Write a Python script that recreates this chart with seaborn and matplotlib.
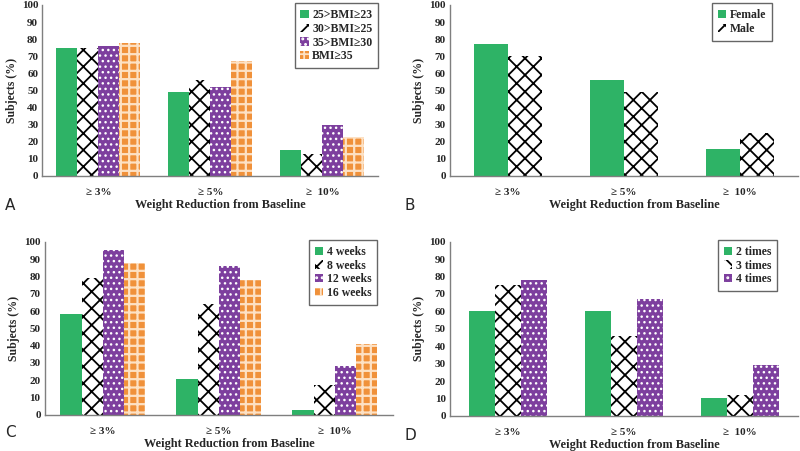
import pandas as pd
import matplotlib
matplotlib.use('Agg')
import matplotlib.pyplot as plt
import seaborn as sns

# categories on the x axis
levels = ['≥ 3%', '≥ 5%', '≥  10%']

# panel A: BMI groups
bmi_groups = ['25>BMI≥23', '30>BMI≥25', '35>BMI≥30', 'BMI≥35']
bmi_values = [[75, 49, 15], [75, 56, 13], [76, 52, 30], [78, 67, 23]]

# panel B: sex
sex_groups = ['Female', 'Male']
sex_values = [[77, 56, 16], [70, 49, 25]]

# panel C: duration
week_groups = ['4 weeks', '8 weeks', '12 weeks', '16 weeks']
week_values = [[58, 21, 3], [79, 64, 17], [95, 86, 28], [88, 78, 41]]

# panel D: visits per week
time_groups = ['2 times', '3 times', '4 times']
time_values = [[60, 60, 10], [75, 46, 12], [78, 67, 29]]

GREEN = '#2eb366'
PURPLE = '#7d3f9e'
ORANGE = '#f0913a'
# face, hatch colour, hatch, hatch width
styles = [(GREEN, GREEN, '', 1.0), ('white', 'black', 'xx', 1.3),
          (PURPLE, 'white', '...', 1.0), (ORANGE, '#fde1c4', '++', 1.6)]

sns.set_style('white')
plt.rcParams['font.family'] = ['Liberation Serif', 'DejaVu Serif']
plt.rcParams['font.weight'] = 'bold'
plt.rcParams['hatch.linewidth'] = 1.3


def to_frame(groups, values):
    rows = []
    for g, vals in zip(groups, values):
        for lvl, v in zip(levels, vals):
            rows.append({'level': lvl, 'group': g, 'value': v})
    return pd.DataFrame(rows)


def draw(ax, groups, values, width, leg_x):
    df = to_frame(groups, values)
    sns.barplot(data=df, x='level', y='value', hue='group', order=levels,
                hue_order=groups, width=width, ax=ax, legend=False)
    for cont, (face, hcol, hatch, hw) in zip(ax.containers, styles):
        for p in cont.patches:
            p.set_facecolor(face)
            p.set_edgecolor(hcol)
            p.set_hatch(hatch)
            p.set_linewidth(0)
            if hasattr(p, 'set_hatch_linewidth'):
                p.set_hatch_linewidth(hw)
    ax.set_ylim(0, 100)
    ax.set_yticks(range(0, 101, 10))
    ax.tick_params(axis='y', length=0, labelsize=8, pad=3)
    ax.tick_params(axis='x', length=0, labelsize=8, pad=9)
    for lab in ax.get_yticklabels() + ax.get_xticklabels():
        lab.set_fontweight('bold')
    ax.set_xlabel('Weight Reduction from Baseline', fontsize=8.8,
                  fontweight='bold', labelpad=1, x=0.53)
    ax.set_ylabel('Subjects (%)', fontsize=8.5, fontweight='bold', labelpad=3)
    sns.despine(ax=ax)
    for s in ['left', 'bottom']:
        ax.spines[s].set_color('#7f7f7f')
        ax.spines[s].set_linewidth(1.0)
    leg = ax.legend(ax.containers, groups, loc='upper right',
                    bbox_to_anchor=(leg_x, 1.01), frameon=True,
                    fancybox=False, handlelength=0.7, handleheight=0.7,
                    handletextpad=0.3, borderpad=0.5, labelspacing=0.15,
                    borderaxespad=0,
                    prop={'weight': 'bold', 'size': 8.5})
    leg.get_frame().set_edgecolor('#404040')
    leg.get_frame().set_linewidth(1.0)


fig = plt.figure(figsize=(8, 4.51), dpi=100)
axA = fig.add_axes([0.053, 0.61, 0.42, 0.379])
axB = fig.add_axes([0.5625, 0.61, 0.435, 0.379])
axC = fig.add_axes([0.056, 0.08, 0.435, 0.384])
axD = fig.add_axes([0.5625, 0.078, 0.435, 0.386])

draw(axA, bmi_groups, bmi_values, 0.75, 1.0)
draw(axB, sex_groups, sex_values, 0.58, 0.925)
draw(axC, week_groups, week_values, 0.73, 0.955)
draw(axD, time_groups, time_values, 0.67, 0.94)

# panel letters
for x, y, letter in [(0.006, 0.545, 'A'), (0.506, 0.545, 'B'),
                     (0.006, 0.04, 'C'), (0.506, 0.035, 'D')]:
    fig.text(x, y, letter, fontsize=11, family='DejaVu Sans',
             fontweight='normal', va='center')

fig.savefig('out.png', dpi=100)
